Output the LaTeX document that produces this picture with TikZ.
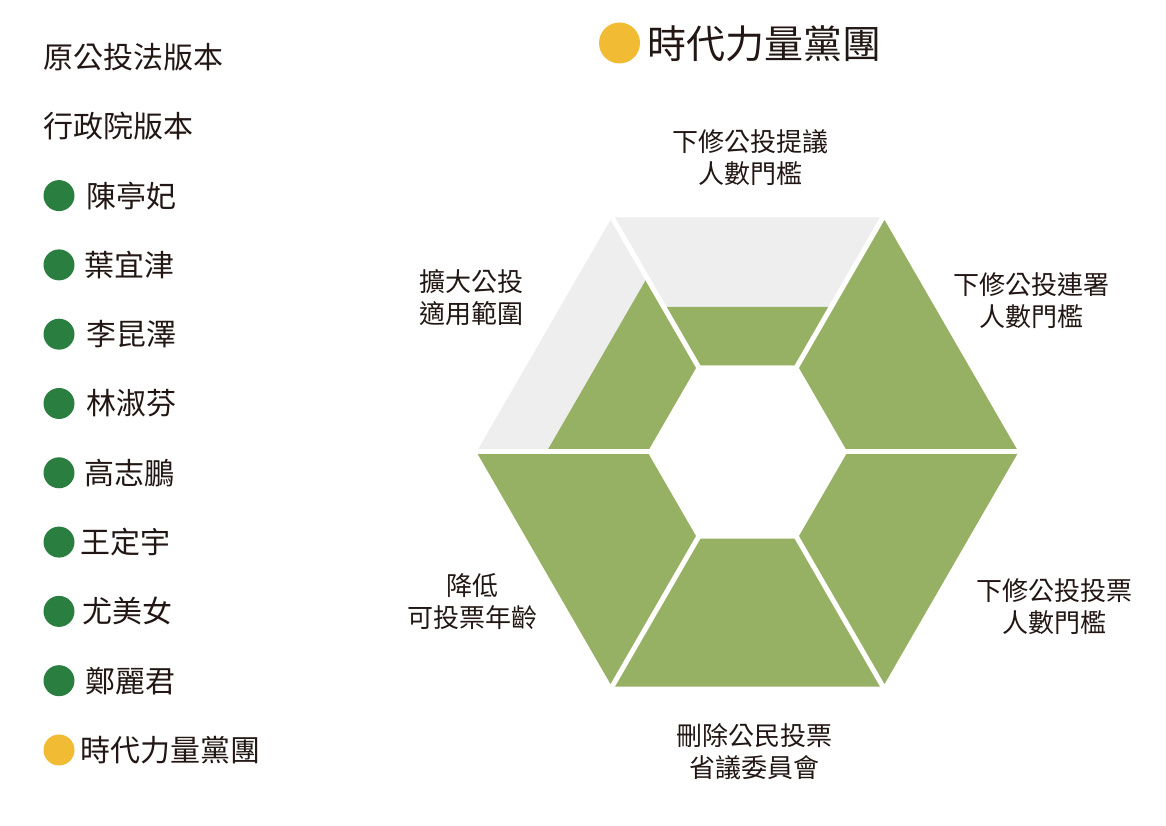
\documentclass[tikz,border=0pt]{standalone}
\usepackage{fontspec}
\setmainfont{Noto Sans CJK TC}
\usetikzlibrary{calc}
\definecolor{ink}{HTML}{221714}
\definecolor{dotgreen}{HTML}{2A7E3F}
\definecolor{gold}{HTML}{F2BB34}
\definecolor{segment}{HTML}{96B064}
\definecolor{pale}{HTML}{EEEEEE}
\tikzset{
  legend/.style={anchor=west,inner sep=0pt,text=ink,font=\fontsize{30}{35}\selectfont},
  dot/.style={circle,fill=#1,minimum size=31pt,inner sep=0pt},
  dot/.default=dotgreen,
  issue/.style={align=center,inner sep=0pt,text=ink,font=\fontsize{26}{32}\selectfont},
  spoke/.style={draw=white,line width=5pt},
}

\begin{document}
\begin{tikzpicture}[x=1pt,y=1pt]
  \useasboundingbox (0,0) rectangle (1166,826);
  % legend
  \node[legend] (orig) at (43,769) {原公投法版本};
  \node[legend] (exec) at (43,700) {行政院版本};
  \foreach \k/\tx/\col/\who in {
      2/86/dotgreen/陳亭妃, 3/84/dotgreen/葉宜津, 4/86/dotgreen/李昆澤,
      5/86/dotgreen/林淑芬, 6/84/dotgreen/高志鵬, 7/80/dotgreen/王定宇,
      8/82/dotgreen/尤美女, 9/85/dotgreen/鄭麗君, 10/80/gold/時代力量黨團}{
    \node[dot=\col] (dot\k) at (59,{769-69.3*\k}) {};
    \node[legend] (name\k) at (\tx,{769-69.3*\k}) {\who};
  }
  % title
  \node[dot=gold,minimum size=41pt] (tdot) at (619.5,783) {};
  \node[anchor=west,inner sep=0pt,text=ink,font=\fontsize{39}{45}\selectfont]
    (title) at (647,782) {時代力量黨團};
  % hexagon
  \coordinate (o) at (747.5,374);
  \foreach \a/\col in {0/segment,60/pale,120/pale,180/segment,240/segment,300/segment}{
    \fill[\col] ($(o)+(\a:271)$) -- ($(o)+(\a+60:271)$) -- ($(o)+(\a+60:100)$)
      -- ($(o)+(\a:100)$) -- cycle;
  }
  \foreach \a/\r in {60/167.5,120/201}{
    \fill[segment] ($(o)+(\a:\r)$) -- ($(o)+(\a+60:\r)$) -- ($(o)+(\a+60:100)$)
      -- ($(o)+(\a:100)$) -- cycle;
  }
  \foreach \a in {0,60,...,300}{
    \draw[spoke] ($(o)+(\a:95)$) -- ($(o)+(\a:280)$);
  }
  % labels
  \node[issue] (propose) at (750,668) {下修公投提議\\人數門檻};
  \node[issue] (sign) at (1031,525) {下修公投連署\\人數門檻};
  \node[issue] (scope) at (471,528.5) {擴大公投\\適用範圍};
  \node[issue] (age) at (472,224) {降低\\可投票年齡};
  \node[issue] (vote) at (1054,219) {下修公投投票\\人數門檻};
  \node[issue] (board) at (754,74.5) {刪除公民投票\\省議委員會};
\end{tikzpicture}
\end{document}
